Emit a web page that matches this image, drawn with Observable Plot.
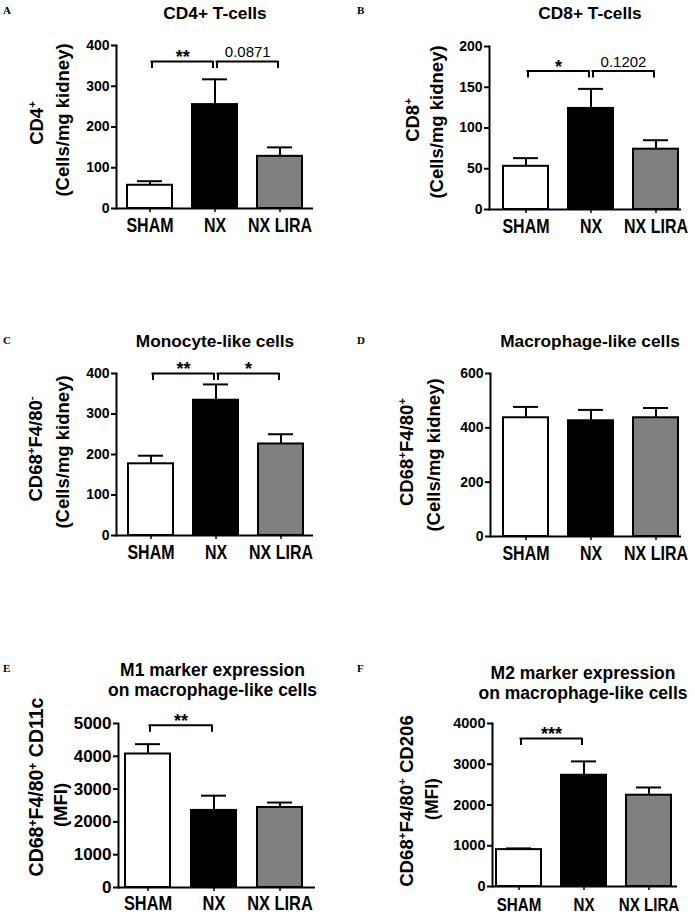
<!DOCTYPE html>
<html><head><meta charset="utf-8">
<script src="https://cdn.jsdelivr.net/npm/d3@7"></script>
<script src="https://cdn.jsdelivr.net/npm/@observablehq/plot@0.6"></script>
<style>
html,body{margin:0;padding:0;background:#fff;}
#fig{position:relative;width:695px;height:917px;overflow:hidden;background:#fff;color:#000;font-family:"Liberation Sans",Arial,sans-serif;}
.panel{position:absolute;}
.panel svg{display:block;overflow:visible;}
.letter{position:absolute;font-family:"Liberation Serif","Times New Roman",serif;font-weight:bold;font-size:11px;line-height:1;}
.title{position:absolute;font-weight:bold;line-height:1;white-space:nowrap;transform:translate(-50%,-50%);text-align:center;}
.ylab{position:absolute;font-weight:bold;line-height:1;white-space:nowrap;transform:translate(-50%,-50%) rotate(-90deg);}
.ylab sup{font-size:0.62em;vertical-align:0.55em;line-height:0;}
</style></head>
<body><div id="fig"></div>
<script>
// ---------- data ----------
const groups = ["SHAM", "NX", "NX LIRA"];

const cd4Mean = [57, 255, 128];
const cd4Sem = [10, 62, 22];
const cd4Ticks = [0, 100, 200, 300, 400];
const cd4Brackets = [
  {from: "SHAM", to: "NX", y: 361, label: "**"},
  {from: "NX", to: "NX LIRA", y: 361, label: "0.0871"}
];

const cd8Mean = [53, 124, 74];
const cd8Sem = [10, 24, 11];
const cd8Ticks = [0, 50, 100, 150, 200];
const cd8Brackets = [
  {from: "SHAM", to: "NX", y: 170, label: "*"},
  {from: "NX", to: "NX LIRA", y: 170, label: "0.1202"}
];

const monoMean = [177, 334, 226];
const monoSem = [20, 39, 24];
const monoTicks = [0, 100, 200, 300, 400];
const monoBrackets = [
  {from: "SHAM", to: "NX", y: 400, label: "**"},
  {from: "NX", to: "NX LIRA", y: 400, label: "*"}
];

const macroMean = [437, 426, 437];
const macroSem = [40, 40, 36];
const macroTicks = [0, 200, 400, 600];
const macroBrackets = [];

const m1Mean = [4070, 2350, 2440];
const m1Sem = [300, 450, 150];
const m1Ticks = [0, 1000, 2000, 3000, 4000, 5000];
const m1Brackets = [{from: "SHAM", to: "NX", y: 4950, label: "**"}];

const m2Mean = [905, 2730, 2240];
const m2Sem = [30, 340, 190];
const m2Ticks = [0, 1000, 2000, 3000, 4000];
const m2Brackets = [{from: "SHAM", to: "NX", y: 3630, label: "***"}];

// ---------- layout / style ----------
const panels = [
  {mean: cd4Mean, sem: cd4Sem, ticks: cd4Ticks, brackets: cd4Brackets,
   box: [0, 0, 345, 250], axisX: 116, axisRight: 313, yTop: 45, y0: 208, bars: [126, 302],
   tickFont: 14, xFont: 19.5, xGap: 9.5,
   letter: ["A", 3, 5], title: ["CD4+ T-cells"], titleX: 215, titleY: [14], titleFont: 17.3,
   ylab: [["CD4<sup>+</sup>", 37, 123, 18.5], ["(Cells/mg kidney)", 63, 120, 18.5]]},
  {mean: cd8Mean, sem: cd8Sem, ticks: cd8Ticks, brackets: cd8Brackets,
   box: [345, 0, 345, 250], axisX: 489, axisRight: 681, yTop: 46, y0: 209, bars: [503, 678],
   tickFont: 14, xFont: 19.5, xGap: 9.5,
   letter: ["B", 357, 5], title: ["CD8+ T-cells"], titleX: 590, titleY: [14], titleFont: 17.3,
   ylab: [["CD8<sup>+</sup>", 413, 120, 18.5], ["(Cells/mg kidney)", 437, 122, 18.5]]},
  {mean: monoMean, sem: monoSem, ticks: monoTicks, brackets: monoBrackets,
   box: [0, 300, 345, 260], axisX: 116, axisRight: 313, yTop: 373, y0: 535, bars: [128, 303],
   tickFont: 14, xFont: 19.5, xGap: 9.5,
   letter: ["C", 3, 335], title: ["Monocyte-like cells"], titleX: 215, titleY: [341.5], titleFont: 17.3,
   ylab: [["CD68<sup>+</sup>F4/80<sup>-</sup>", 36, 449, 18.5], ["(Cells/mg kidney)", 63, 452, 18.5]]},
  {mean: macroMean, sem: macroSem, ticks: macroTicks, brackets: macroBrackets,
   box: [345, 300, 345, 260], axisX: 490, axisRight: 681, yTop: 373, y0: 536, bars: [503, 678],
   tickFont: 14, xFont: 19.5, xGap: 9.5,
   letter: ["D", 357, 335], title: ["Macrophage-like cells"], titleX: 590, titleY: [341.5], titleFont: 17.3,
   ylab: [["CD68<sup>+</sup>F4/80<sup>+</sup>", 407, 452, 18.5], ["(Cells/mg kidney)", 434, 455, 18.5]]},
  {mean: m1Mean, sem: m1Sem, ticks: m1Ticks, brackets: m1Brackets,
   box: [0, 640, 345, 277], axisX: 118, axisRight: 315, yTop: 723, y0: 887, bars: [125, 302],
   tickFont: 17, xFont: 20, xGap: 8.5,
   letter: ["E", 3, 663], title: ["M1 marker expression", "on macrophage-like cells"], titleX: 212.5, titleY: [671, 691], titleFont: 17.5,
   ylab: [["CD68<sup>+</sup>F4/80<sup>+</sup> CD11c", 37, 787, 19.5], ["(MFI)", 61, 805, 18.5]]},
  {mean: m2Mean, sem: m2Sem, ticks: m2Ticks, brackets: m2Brackets,
   box: [345, 640, 345, 277], axisX: 492, axisRight: 677, yTop: 723, y0: 886, bars: [496, 671],
   tickFont: 14.5, xFont: 18.5, xGap: 11,
   letter: ["F", 357, 663], title: ["M2 marker expression", "on macrophage-like cells"], titleX: 583, titleY: [674, 694], titleFont: 17.5,
   ylab: [["CD68<sup>+</sup>F4/80<sup>+</sup> CD206", 407, 801, 18.6], ["(MFI)", 433, 799, 17.5]]}
];

const fig = document.getElementById("fig");
const isStars = (b) => /^\*+$/.test(b.label);
const CONDENSE = 0.82; // the reference's category labels use a condensed face

function drawPanel(p) {
  const [L, T, W, H] = p.box;
  const bw = 45;
  const span = p.bars[1] - p.bars[0];
  const padInner = (span - 3 * bw) / (span - bw);
  const step = bw / (1 - padInner);
  const rows = groups.map((g, i) => ({group: g, mean: p.mean[i], hi: p.mean[i] + p.sem[i]}));
  const stars = p.brackets.filter(isStars);
  const nums = p.brackets.filter((b) => !isStars(b));
  const chart = Plot.plot({
    width: W, height: H,
    marginLeft: p.axisX - L, marginRight: L + W - p.axisRight,
    marginTop: p.yTop - T, marginBottom: T + H - p.y0,
    style: {fontFamily: '"Liberation Sans",Arial,sans-serif', fontWeight: "bold", color: "#000", background: "transparent", overflow: "visible"},
    x: {type: "band", domain: groups, range: [p.bars[0] - L, p.bars[1] - L], paddingInner: padInner, paddingOuter: 0},
    y: {type: "linear", domain: [p.ticks[0], p.ticks[p.ticks.length - 1]], range: [p.y0 - T, p.yTop - T]},
    color: {type: "ordinal", domain: groups, range: ["#ffffff", "#000000", "#808080"]},
    marks: [
      Plot.barY(rows, {x: "group", y: "mean", fill: "group", stroke: "#000", strokeWidth: 2}),
      Plot.ruleX(rows, {x: "group", y1: "mean", y2: "hi", stroke: "#000", strokeWidth: 2}),
      Plot.tickY(rows, {x: "group", y: "hi", stroke: "#000", strokeWidth: 2, inset: 10}),
      Plot.ruleY([0], {stroke: "#000", strokeWidth: 2}),
      Plot.frame({anchor: "left", stroke: "#000", strokeWidth: 2}),
      Plot.axisY({ticks: p.ticks, tickFormat: d3.format("d"), tickSize: 5, tickPadding: 2,
        fontSize: p.tickFont, fontWeight: "bold", strokeWidth: 2, label: null}),
      Plot.axisX({tickSize: 4, tickPadding: p.xGap - 4, fontSize: p.xFont,
        fontWeight: "bold", strokeWidth: 1.5, label: null}),
      Plot.ruleY(p.brackets, {y: "y", x1: "from", x2: "to", insetLeft: bw / 2 + 2, insetRight: bw / 2 + 2,
        stroke: "#000", strokeWidth: 2, strokeLinecap: "square"}),
      Plot.ruleX(p.brackets, {x: "from", y1: "y", y2: "y", insetBottom: -7, dx: 2, stroke: "#000", strokeWidth: 2}),
      Plot.ruleX(p.brackets, {x: "to", y1: "y", y2: "y", insetBottom: -7, dx: -2, stroke: "#000", strokeWidth: 2}),
      Plot.text(stars, {x: "from", y: "y", text: "label", dx: step / 2, dy: -4, fontSize: 18, fontWeight: "bold"}),
      Plot.text(nums, {x: "from", y: "y", text: "label", dx: step / 2, dy: -9, fontSize: 15, fontWeight: "normal"})
    ]
  });
  const holder = document.createElement("div");
  holder.className = "panel";
  holder.style.left = L + "px";
  holder.style.top = T + "px";
  holder.appendChild(chart);
  fig.appendChild(holder);

  // condense the category labels horizontally (keeps them as real text)
  chart.querySelectorAll('g[aria-label="x-axis tick label"] text').forEach((t) => {
    const tr = t.getAttribute("transform") || "";
    t.setAttribute("transform", (tr + " scale(" + CONDENSE + ",1)").trim());
  });

  const letter = document.createElement("div");
  letter.className = "letter";
  letter.textContent = p.letter[0];
  letter.style.left = p.letter[1] + "px";
  letter.style.top = p.letter[2] + "px";
  fig.appendChild(letter);

  p.title.forEach((t, i) => {
    const d = document.createElement("div");
    d.className = "title";
    d.textContent = t;
    d.style.left = p.titleX + "px";
    d.style.top = p.titleY[i] + "px";
    d.style.fontSize = p.titleFont + "px";
    fig.appendChild(d);
  });

  p.ylab.forEach(([html, x, y, size]) => {
    const d = document.createElement("div");
    d.className = "ylab";
    d.innerHTML = html;
    d.style.left = x + "px";
    d.style.top = y + "px";
    d.style.fontSize = size + "px";
    fig.appendChild(d);
  });
}

panels.forEach(drawPanel);
</script>
</body></html>
